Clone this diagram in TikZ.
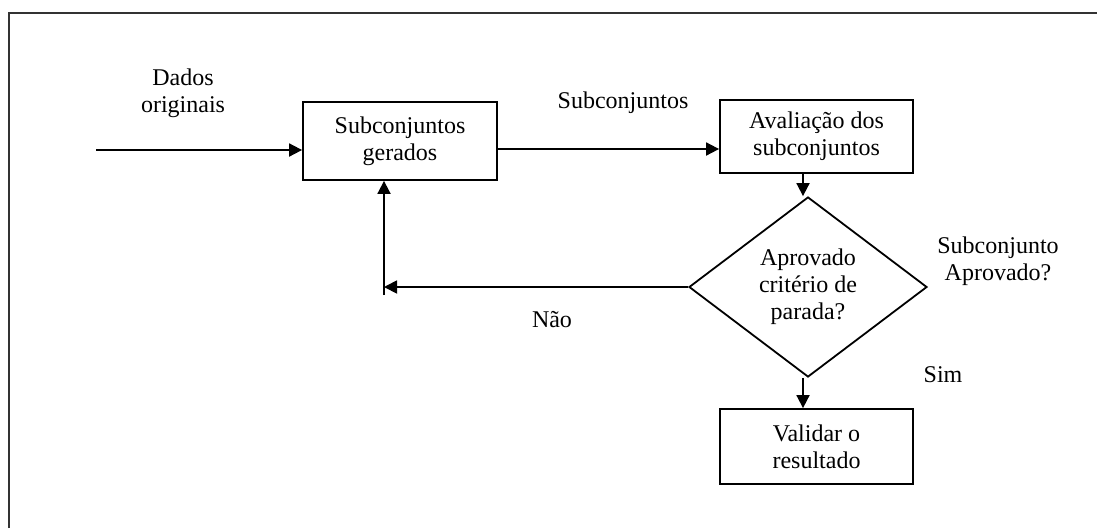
\documentclass[tikz,border=0pt]{standalone}
\usepackage{fontspec}
\setmainfont{Liberation Serif}
\usetikzlibrary{arrows.meta,shapes.geometric}
\begin{document}
\begin{tikzpicture}[x=1pt,y=-1pt,
  every node/.style={font=\fontsize{24}{27}\selectfont, align=center, inner sep=0pt},
  boxnode/.style={draw, line width=1.8pt, rectangle},
  decision/.style={draw, line width=1.8pt, diamond, minimum width=238pt, minimum height=180pt},
  arr/.style={line width=1.8pt, -{Triangle[length=13pt,width=13pt]}},
  framestyle/.style={line width=1.8pt, draw=black!80}]
\useasboundingbox (0,0) rectangle (1097,528);
\fill[white] (0,0) rectangle (1097,528);
\draw[framestyle] (9,528) -- (9,13) -- (1097,13);

\node[boxnode, minimum width=194pt, minimum height=78pt] (b1) at (400,141) {Subconjuntos\\gerados};
\node[boxnode, minimum width=193pt, minimum height=73pt] (b2) at (816.5,136.5) {Avaliação dos\\subconjuntos};
\node[decision] (d) at (808,287) {Aprovado\\critério de\\parada?};
\node[boxnode, minimum width=193pt, minimum height=75pt] (b3) at (816.5,446.5) {Validar o\\resultado};

\coordinate (in) at (96,150);
\coordinate (fb) at (384,287);

\node (lbl1) at (183,93) {Dados\\originais};
\node (lbl2) at (623,103) {Subconjuntos};
\node (lbl3) at (998,261) {Subconjunto\\Aprovado?};
\node (lbl4) at (943,375) {Sim};
\node (lbl5) at (552,320) {Não};

\draw[arr] (in) -- (in -| b1.west);
\draw[arr] ([yshift=-8pt]b1.east) -- ([yshift=-8pt]b1.east -| b2.west);
\draw[arr] ([xshift=-5pt]d.north |- b2.south) -- ([xshift=-5pt]d.north);
\draw[arr] ([xshift=-5pt]d.south) -- ([xshift=-5pt]d.south |- b3.north);
\draw[arr] (d.west) -- (fb);
\draw[arr] ([yshift=-8pt]fb) -- (fb |- b1.south);
\end{tikzpicture}
\end{document}
